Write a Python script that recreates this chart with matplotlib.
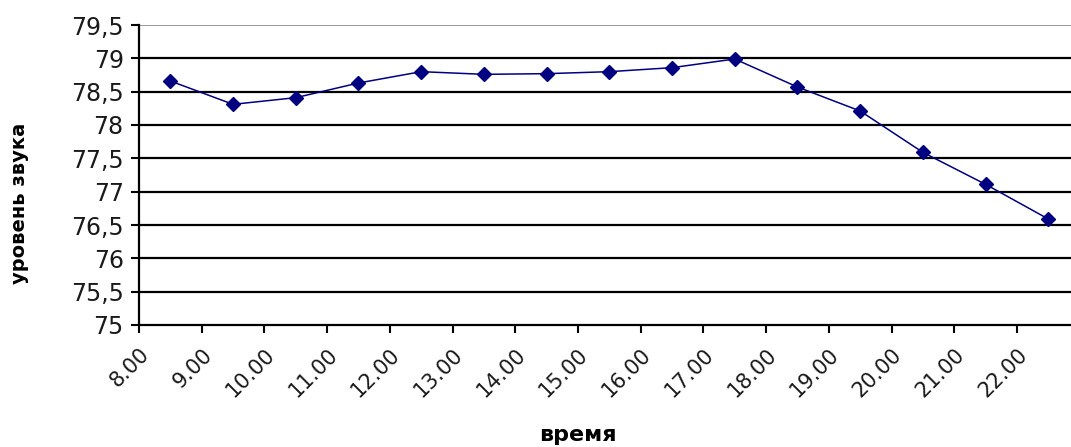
import matplotlib
matplotlib.use("Agg")
import matplotlib.pyplot as plt
import numpy as np

hours = ["8.00", "9.00", "10.00", "11.00", "12.00", "13.00", "14.00", "15.00",
         "16.00", "17.00", "18.00", "19.00", "20.00", "21.00", "22.00"]
sound_level = [78.66, 78.31, 78.41, 78.63, 78.80, 78.76, 78.77, 78.80,
               78.86, 78.99, 78.57, 78.21, 77.59, 77.11, 76.59]
y_ticks = [75, 75.5, 76, 76.5, 77, 77.5, 78, 78.5, 79, 79.5]
y_tick_labels = ["75", "75,5", "76", "76,5", "77", "77,5", "78", "78,5", "79", "79,5"]

W, H = 1071, 447
fig = plt.figure(figsize=(W / 100, H / 100), dpi=100)
ax = fig.add_axes([139 / W, 1 - 325 / H, 1 - 139 / W, 300 / H])

pos = np.arange(len(hours))
ax.plot(pos + 0.5, sound_level, color="#000080", lw=1.1, marker="D",
        markersize=7, markerfacecolor="#000080", markeredgecolor="#000080",
        zorder=5, clip_on=False)

ax.set_ylim(75, 79.5)
ax.set_xlim(0, (W - 139) / 62.71)
ax.set_yticks(y_ticks)
ax.set_yticklabels(y_tick_labels, fontsize=17, family="DejaVu Sans")
ax.set_xticks(pos)
ax.set_xticklabels(hours, rotation=45, ha="right", va="top",
                   rotation_mode="anchor", fontsize=15, family="DejaVu Sans")

for y in y_ticks[1:-1]:
    ax.axhline(y, color="black", lw=1.6, zorder=1)
ax.axhline(79.5, color="#9a9a9a", lw=1.4, zorder=1)

for side in ("top", "right"):
    ax.spines[side].set_visible(False)
ax.spines["left"].set_linewidth(1.6)
ax.spines["bottom"].set_linewidth(1.6)
ax.tick_params(axis="both", direction="out", length=6, width=1.5, pad=5,
               colors="black", labelcolor="#1a1a1a")
ax.tick_params(axis="x", pad=8)

fig.text(20 / W, 1 - 203 / H, "уровень звука", rotation=90, ha="center",
         va="center", fontsize=14, fontweight="bold", family="DejaVu Sans")
fig.text(578 / W, 2 / H, "время", ha="center", va="bottom",
         fontsize=16, fontweight="bold", family="DejaVu Sans")

fig.savefig("out.png", dpi=100, facecolor="white")
